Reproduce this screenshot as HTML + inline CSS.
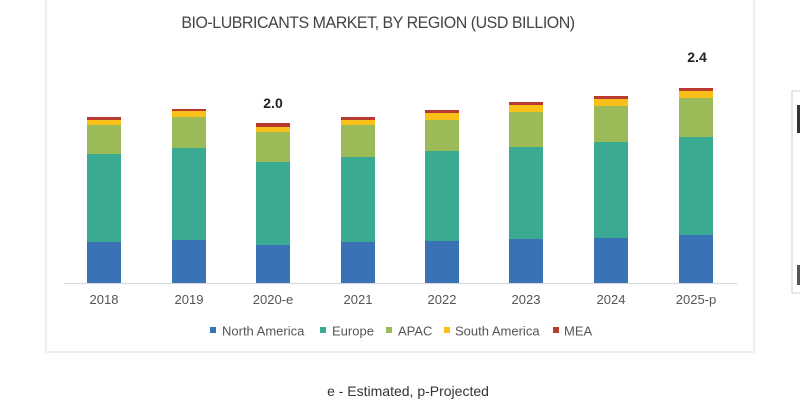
<!DOCTYPE html>
<html><head><meta charset="utf-8"><style>
html,body{margin:0;padding:0;background:#fff;}
svg{display:block;font-family:"Liberation Sans",Arial,sans-serif;}
</style></head><body>
<svg width="800" height="400" viewBox="0 0 800 400">
<rect x="46" y="-2" width="708" height="354" fill="#fff" stroke="#e2e2e2" stroke-width="1.2"/>
<rect x="792" y="91" width="12" height="202" fill="#fff" stroke="#cfcfcf"/>
<rect x="797" y="105" width="3" height="28" fill="#333"/>
<rect x="797" y="265" width="3" height="20" fill="#555"/>
<text x="378" y="28" text-anchor="middle" font-size="17" fill="#444" transform="translate(378 0) scale(0.94 1) translate(-378 0)" letter-spacing="-0.5">BIO-LUBRICANTS MARKET, BY REGION (USD BILLION)</text>
<line x1="64" y1="283.5" x2="737" y2="283.5" stroke="#d9d9d9" stroke-width="1.2"/>
<g id="bars"></g>
<text x="273" y="108" text-anchor="middle" font-size="14" font-weight="bold" fill="#222">2.0</text>
<text x="697" y="62" text-anchor="middle" font-size="14" font-weight="bold" fill="#222">2.4</text>
<g font-size="13" fill="#555" text-anchor="middle">
<text x="104" y="304">2018</text><text x="189" y="304">2019</text><text x="273" y="304">2020-e</text><text x="358" y="304">2021</text><text x="442" y="304">2022</text><text x="526" y="304">2023</text><text x="611" y="304">2024</text><text x="696" y="304">2025-p</text>
</g>
<g font-size="13" fill="#555">
<rect x="210" y="327" width="6" height="6" fill="#3a73b5"/><text x="222" y="335.5">North America</text>
<rect x="320" y="327" width="6" height="6" fill="#3aaa92"/><text x="332" y="335.5">Europe</text>
<rect x="386" y="327" width="6" height="6" fill="#9bbb59"/><text x="398" y="335.5">APAC</text>
<rect x="444" y="327" width="6" height="6" fill="#f9c01a"/><text x="455" y="335.5">South America</text>
<rect x="553" y="327" width="6" height="6" fill="#b83a30"/><text x="564" y="335.5">MEA</text>
</g>
<text x="408" y="396" text-anchor="middle" font-size="14" fill="#333">e - Estimated,  p-Projected</text>
</svg>
<script>
var d=[[87,117,120,125,154,242],[172,109,111,117,148,240],[256,123,127,132,162,245],[341,117,120,125,157,242],[425,110,113,120,151,241],[509,102,105,112,147,239],[594,96,99,106,142,238],[679,88,91,98,137,235]];
var c=["#b83a30","#f9c01a","#9bbb59","#3aaa92","#3a73b5"];
var s="";
d.forEach(function(b){var ys=b.slice(1).concat([283]);for(var i=0;i<5;i++){s+='<rect x="'+b[0]+'" y="'+ys[i]+'" width="34" height="'+(ys[i+1]-ys[i])+'" fill="'+c[i]+'"/>';}});
document.getElementById("bars").innerHTML=s;
</script>
</body></html>
